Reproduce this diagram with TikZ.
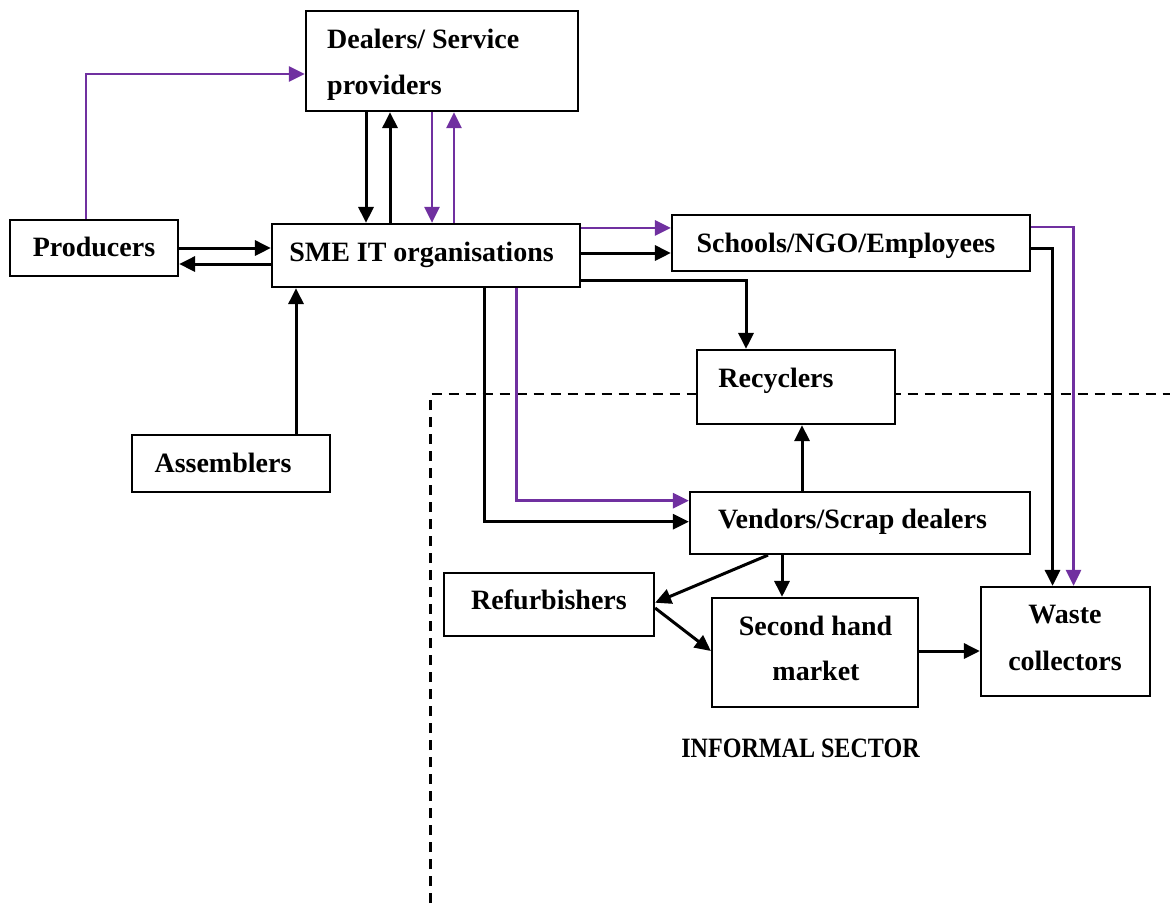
\documentclass[tikz,border=0pt]{standalone}
\usepackage{fontspec}
\setmainfont{Liberation Serif}
\usetikzlibrary{arrows.meta}
\definecolor{flowpurple}{HTML}{7030A0}
\begin{document}
\begin{tikzpicture}[x=1pt,y=-1pt,
  box/.style={draw=black, line width=2.2pt, fill=white, inner sep=0pt},
  txt/.style={inner sep=0pt, font=\fontsize{28}{30}\selectfont\bfseries},
  arr/.style={draw=black, line width=3pt, -{Triangle[length=16pt,width=15pt]}},
  parr/.style={draw=flowpurple, line width=2.8pt, -{Triangle[length=16pt,width=15pt]}},
  sector/.style={draw=black, line width=2.6pt, dash pattern=on 10pt off 7pt}]
\useasboundingbox[fill=white] (0,0) rectangle (1170,903);

% informal sector boundary
\coordinate (bndlow) at (430.5,903);
\coordinate (bndcorner) at (430.5,394);
\coordinate (bndright) at (1170,394);
\draw[sector] (bndlow) -- (bndcorner) -- (bndright);

% boxes
\node[box, minimum width=272pt, minimum height=100pt] (dealers) at (442,61) {};
\node[box, minimum width=168pt, minimum height=56pt] (prod) at (94,248) {};
\node[box, minimum width=308pt, minimum height=63pt] (sme) at (426,255.5) {};
\node[box, minimum width=358pt, minimum height=56pt] (schools) at (851,243) {};
\node[box, minimum width=198pt, minimum height=74pt] (recyc) at (796,387) {};
\node[box, minimum width=198pt, minimum height=57pt] (assem) at (231,463.5) {};
\node[box, minimum width=340pt, minimum height=62pt] (vend) at (860,523) {};
\node[box, minimum width=210pt, minimum height=63pt] (refurb) at (549,604.5) {};
\node[box, minimum width=206pt, minimum height=109pt] (second) at (815,652.5) {};
\node[box, minimum width=169pt, minimum height=109pt] (waste) at (1065.5,641.5) {};

% box texts
\node[txt, anchor=base west] (dealers-a) at (327,48) {Dealers/ Service};
\node[txt, anchor=base west] (dealers-b) at (327,94) {providers};
\node[txt, anchor=base] (prod-t) at (94,256) {Producers};
\node[txt, anchor=base] (sme-t) at (421.5,261) {SME IT organisations};
\node[txt, anchor=base] (schools-t) at (846,252) {Schools/NGO/Employees};
\node[txt, anchor=base] (recyc-t) at (776,387) {Recyclers};
\node[txt, anchor=base] (assem-t) at (223,472.5) {Assemblers};
\node[txt, anchor=base] (vend-t) at (852.5,528) {Vendors/Scrap dealers};
\node[txt, anchor=base] (refurb-t) at (549,609) {Refurbishers};
\node[txt, anchor=base] (second-a) at (815.5,635) {Second hand};
\node[txt, anchor=base] (second-b) at (816,680) {market};
\node[txt, anchor=base] (waste-a) at (1065,623) {Waste};
\node[txt, anchor=base] (waste-b) at (1065,670) {collectors};
\node[txt, anchor=base] (informal) at (800.5,757) {\scalebox{0.86}[1]{INFORMAL SECTOR}};

% producers and dealers
\draw[parr] ([xshift=-8pt]prod.north) |- ([yshift=-13pt]dealers.west);
\draw[arr] (prod.east) -- (prod.east -| sme.west);
\draw[arr] ([yshift=-16pt]prod.east -| sme.west) -- ([yshift=-16pt]prod.east);
\draw[arr] ([xshift=-76pt]dealers.south) -- ([xshift=-76pt]dealers.south |- sme.north);
\draw[arr] ([xshift=-52pt]dealers.south |- sme.north) -- ([xshift=-52pt]dealers.south);
\draw[parr] ([xshift=-10pt]dealers.south) -- ([xshift=-10pt]dealers.south |- sme.north);
\draw[parr] ([xshift=12pt]dealers.south |- sme.north) -- ([xshift=12pt]dealers.south);
\draw[arr] ([xshift=65pt]assem.north) -- ([xshift=65pt]assem.north |- sme.south);

% SME organisations outwards
\draw[parr] ([yshift=-5pt]sme.north east) -- ([yshift=-5pt]sme.north east -| schools.west);
\draw[arr] ([yshift=2.5pt]sme.east) -- ([yshift=2.5pt]sme.east -| schools.west);
\draw[arr] ([yshift=-24.5pt]sme.east) -| ([xshift=-50pt]recyc.north);
\draw[arr] ([xshift=58.6pt]sme.south) |- ([yshift=1.3pt]vend.west);
\draw[parr] ([xshift=90.6pt]sme.south) |- ([yshift=22.3pt]vend.west);

% schools to waste collectors
\draw[parr] ([yshift=16pt]schools.east) -| ([xshift=8pt]waste.north);
\draw[arr] ([yshift=-5pt]schools.east) -| ([xshift=-13pt]waste.north);

% informal flows
\draw[arr] ([xshift=-58pt]vend.north) -- ([xshift=-58pt]vend.north |- recyc.south);
\draw[arr] ([xshift=-92pt]vend.south) -- ([yshift=1.8pt]refurb.east);
\draw[arr] ([xshift=-78pt]vend.south) -- ([xshift=-78pt]vend.south |- second.north);
\draw[arr] ([yshift=-3.5pt]refurb.east) -- ([yshift=1.5pt]second.west);
\draw[arr] ([yshift=1.5pt]second.east) -- ([yshift=1.5pt]second.east -| waste.west);
\end{tikzpicture}
\end{document}
